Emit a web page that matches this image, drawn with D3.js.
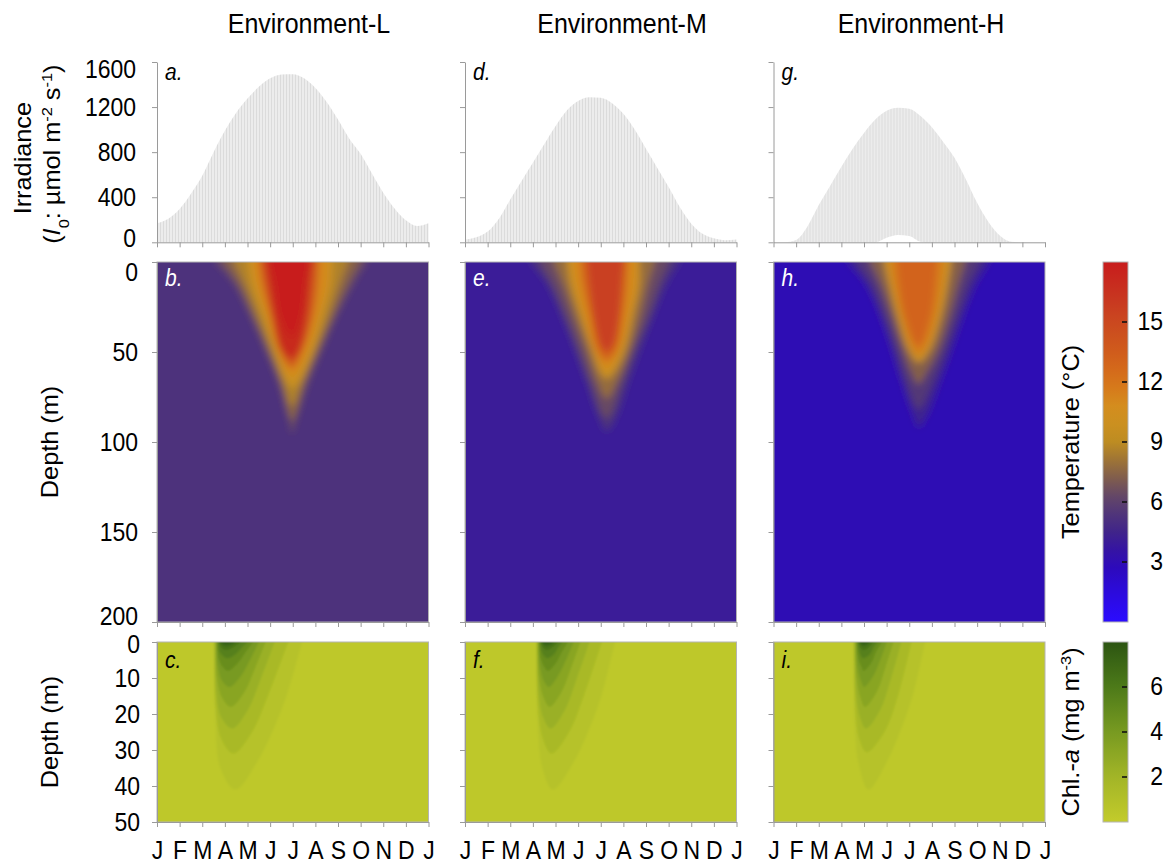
<!DOCTYPE html>
<html lang="en">
<head>
<meta charset="UTF-8">
<title>Irradiance, temperature and Chl-a in three environments</title>
<script src="https://cdn.jsdelivr.net/npm/d3@7"></script>
<style>
  body { margin: 0; background: #fff; }
  svg text { font-family: "Liberation Sans", Arial, sans-serif; fill: #000; }
  .axis path, .axis line { stroke: #9a9a9a; }
</style>
</head>
<body>
<svg id="fig" width="1172" height="864"></svg>
<script>
// ---- data ----
const monthTicks = [0, 1, 2, 3, 4, 5, 6, 7, 8, 9, 10, 11, 12];
const monthLabels = ["J", "F", "M", "A", "M", "J", "J", "A", "S", "O", "N", "D", "J"];
const envNames = ["Environment-L", "Environment-M", "Environment-H"];
const titleX = [309, 622, 921];
const letters = [["a.", "b.", "c."], ["d.", "e.", "f."], ["g.", "h.", "i."]];

// surface irradiance envelope (umol m-2 s-1), every half month
const irrMonths = [0, 0.5, 1, 1.5, 2, 2.5, 3, 3.5, 4, 4.5, 5, 5.5, 6, 6.5, 7, 7.5, 8, 8.5, 9, 9.5, 10, 10.5, 11, 11.5, 12];
const irrL = [170, 210, 295, 430, 590, 800, 990, 1150, 1275, 1380, 1455, 1490, 1492, 1455, 1370, 1245, 1090, 920, 785, 610, 440, 300, 195, 145, 170];
const irrM = [25, 45, 95, 210, 380, 545, 705, 870, 1030, 1170, 1255, 1288, 1282, 1235, 1140, 1000, 830, 660, 490, 310, 165, 75, 35, 18, 25];
const irrH = [0, 0, 20, 140, 330, 500, 670, 830, 970, 1090, 1168, 1195, 1185, 1120, 1020, 890, 750, 560, 350, 180, 60, 5, 0, 0, 0];
const irrLowL = [0, 0, 0, 0, 0, 0, 0, 0, 0, 0, 0, 0, 0, 0, 0, 0, 0, 0, 0, 0, 0, 0, 0, 0, 0];
const irrLowM = [0, 0, 0, 0, 0, 0, 0, 0, 0, 0, 0, 0, 0, 0, 0, 0, 0, 0, 0, 0, 0, 0, 0, 0, 0];
const irrLowH = [0, 0, 0, 0, 0, 0, 0, 0, 0, 0, 40, 64, 55, 5, 0, 0, 0, 0, 0, 0, 0, 0, 0, 0, 0];

// temperature: deep background value and isotherm outlines [month, depth m]
const tempBg = [5.3, 4.0, 3.0];
const tempLevelsL = [6.4, 7.4, 8.6, 9.8, 11, 13.5, 17, 17.8];
const tempLinesL = [
  [[2.58,0],[3.39,12],[4.12,30],[4.79,49],[5.37,67],[5.8,86],[5.97,95],[6.2,86],[6.70,67],[7.29,49],[7.95,30],[8.69,12],[9.28,0]],
  [[2.95,0],[3.6,12],[4.25,30],[4.9,49],[5.45,67],[5.97,88],[6.55,67],[7.15,49],[7.8,30],[8.45,12],[8.95,0]],
  [[3.4,0],[3.85,12],[4.45,30],[5.05,49],[5.6,67],[5.97,80],[6.4,67],[7.0,49],[7.6,30],[8.1,12],[8.45,0]],
  [[3.98,0],[4.15,12],[4.64,30],[5.15,49],[5.74,67],[5.97,70],[6.26,67],[6.92,49],[7.36,30],[7.73,12],[7.8,0]],
  [[4.25,0],[4.4,12],[4.85,30],[5.3,49],[5.97,64],[6.7,49],[7.15,30],[7.5,12],[7.55,0]],
  [[4.5,0],[4.65,12],[5.0,30],[5.4,49],[5.97,59],[6.45,49],[6.9,30],[7.1,12],[7.15,0]],
  [[4.75,0],[4.9,12],[5.15,30],[5.52,49],[5.97,54],[6.3,49],[6.65,30],[6.8,12],[6.9,0]],
  [[5.0,0],[5.2,12],[5.45,30],[5.97,42],[6.35,30],[6.55,12],[6.7,0]]
];
const tempLevelsM = [5.2, 6.4, 7.8, 9.8, 11, 13, 15.6];
const tempLinesM = [
  [[2.87,0],[3.61,12],[4.27,30],[4.86,49],[5.37,67],[5.89,86],[6.26,94],[6.7,86],[7.21,67],[7.73,49],[8.32,30],[8.91,12],[9.5,0]],
  [[3.3,0],[3.85,12],[4.45,30],[5.03,49],[5.55,67],[6.26,87],[6.95,67],[7.47,49],[8.1,30],[8.6,12],[9.05,0]],
  [[3.9,0],[4.3,12],[4.8,30],[5.35,49],[5.85,67],[6.26,76],[6.7,67],[7.3,49],[7.75,30],[8.1,12],[8.4,0]],
  [[4.49,0],[4.64,12],[5.08,30],[5.6,49],[6.0,62],[6.26,65],[6.55,62],[7.07,49],[7.43,30],[7.73,12],[7.73,0]],
  [[4.75,0],[4.9,12],[5.25,30],[5.7,49],[6.26,60],[6.85,49],[7.25,30],[7.5,12],[7.55,0]],
  [[5.1,0],[5.2,12],[5.5,30],[5.85,49],[6.26,55],[6.7,49],[7.0,30],[7.15,12],[7.2,0]],
  [[5.4,0],[5.5,12],[5.7,30],[6.0,46],[6.26,50],[6.55,46],[6.8,30],[6.92,12],[7.0,0]]
];
const tempLevelsH = [4.3, 5.6, 7.3, 9.8, 11.5, 13];
const tempLinesH = [
  [[3.24,0],[4.05,12],[4.71,30],[5.23,49],[5.67,67],[6.18,86],[6.41,92],[6.78,86],[7.36,67],[7.88,49],[8.39,30],[8.98,12],[9.57,0]],
  [[3.65,0],[4.3,12],[4.88,30],[5.4,49],[5.85,67],[6.41,82],[7.05,67],[7.62,49],[8.15,30],[8.65,12],[9.15,0]],
  [[4.25,0],[4.7,12],[5.2,30],[5.7,49],[6.1,62],[6.41,68],[6.75,62],[7.3,49],[7.8,30],[8.2,12],[8.5,0]],
  [[4.86,0],[5.08,12],[5.45,30],[5.96,49],[6.41,56],[6.92,49],[7.43,30],[7.73,12],[7.88,0]],
  [[5.15,0],[5.3,12],[5.65,30],[6.05,46],[6.41,52],[6.8,46],[7.2,30],[7.45,12],[7.55,0]],
  [[5.45,0],[5.55,12],[5.8,30],[6.41,47],[6.95,30],[7.15,12],[7.23,0]]
];

// chlorophyll-a: background and contour outlines [month, depth m]
const chlBg = [0.3, 0.3, 0.3];
const chlLevels = [0.8, 1.6, 2.4, 3.2, 4.0, 4.8, 5.6, 6.4, 7.2];
const chlLinesL = [
  [[2.5,0],[2.58,22],[2.8,35],[3.46,41],[4.42,33.4],[5.16,24],[5.75,14.5],[6.41,0]],
  [[2.53,0],[2.6,18],[2.85,27],[3.38,31],[4.2,25],[4.9,15],[5.8,0]],
  [[2.56,0],[2.63,14],[2.85,21],[3.32,24],[4.0,19],[4.6,10],[5.2,0]],
  [[2.6,0],[2.66,10],[2.88,15.5],[3.26,18],[3.85,14],[4.35,7],[4.8,0]],
  [[2.63,0],[2.7,7],[2.9,11],[3.2,12.5],[3.7,9.5],[4.15,4.5],[4.5,0]],
  [[2.66,0],[2.73,4.5],[2.92,7],[3.15,8],[3.55,6],[3.95,2.5],[4.25,0]],
  [[2.7,0],[2.78,2.8],[3.1,4.5],[3.45,3.5],[3.8,1.2],[4.0,0]],
  [[2.75,0],[2.85,1.5],[3.05,2.2],[3.35,1.5],[3.7,0]],
  [[2.8,0],[3.0,1],[3.3,0.6],[3.45,0]]
];
const chlLinesM = [
  [[3.14,0],[3.21,22],[3.42,35],[3.88,41],[4.8,33.4],[5.5,24],[6.05,14.5],[6.63,0]],
  [[3.16,0],[3.23,18],[3.45,27],[3.82,31],[4.6,25],[5.25,15],[6.05,0]],
  [[3.19,0],[3.26,14],[3.46,21],[3.78,24],[4.4,19],[4.95,10],[5.5,0]],
  [[3.22,0],[3.28,10],[3.48,15.5],[3.74,18],[4.25,14],[4.7,7],[5.1,0]],
  [[3.25,0],[3.32,7],[3.5,11],[3.7,12.5],[4.1,9.5],[4.5,4.5],[4.8,0]],
  [[3.28,0],[3.35,4.5],[3.52,7],[3.67,8],[4.0,6],[4.3,2.5],[4.55,0]],
  [[3.32,0],[3.4,2.8],[3.62,4.5],[3.92,3.5],[4.15,1.2],[4.3,0]],
  [[3.36,0],[3.45,1.5],[3.6,2.2],[3.85,1.5],[4.1,0]],
  [[3.4,0],[3.55,1],[3.8,0.6],[3.9,0]]
];
const chlLinesH = [
  [[3.53,0],[3.6,24],[3.75,33.4],[4.2,41],[5.0,33.4],[5.65,24],[6.17,14.5],[6.7,0]],
  [[3.55,0],[3.62,18],[3.8,27],[4.12,30.6],[4.9,25],[5.5,15],[6.1,0]],
  [[3.58,0],[3.65,14],[3.83,21],[4.08,24],[4.7,19],[5.2,10],[5.65,0]],
  [[3.62,0],[3.68,10],[3.85,15.5],[4.04,18],[4.55,14],[4.95,7],[5.3,0]],
  [[3.65,0],[3.72,7],[3.88,11],[4.0,12.5],[4.4,9.5],[4.75,4.5],[5.0,0]],
  [[3.68,0],[3.75,4.5],[3.9,7],[3.98,8],[4.3,6],[4.55,2.5],[4.8,0]],
  [[3.72,0],[3.8,2.8],[3.95,4.5],[4.25,3.5],[4.45,1.2],[4.6,0]],
  [[3.76,0],[3.85,1.5],[3.98,2.2],[4.2,1.5],[4.4,0]],
  [[3.8,0],[3.95,1],[4.15,0.6],[4.25,0]]
];

const irrTicks = [0, 400, 800, 1200, 1600];
const tempDepthTicks = [0, 50, 100, 150, 200];
const chlDepthTicks = [0, 10, 20, 30, 40, 50];
const tempBarTicks = [3, 6, 9, 12, 15];
const chlBarTicks = [2, 4, 6];

// colour palettes
const tempStops = [0, 1.5, 3, 4.5, 6, 7.5, 9, 10.5, 12, 13.5, 15, 16.5, 18];
const tempColors = ["#2b0cff", "#2c0bdc", "#2d0ab4", "#40248a", "#5a4070", "#8a6444", "#bd8c22", "#d4931f",
                    "#d6741a", "#d05c1c", "#ca4820", "#c83220", "#c81c1c"];
const chlStops = [0, 2, 4, 6, 8];
const chlColors = ["#c3cb2b", "#a2b527", "#789a21", "#4d7a19", "#2c5512"];

// ---- layout ----
const SY = 1.1;              // the figure text is slightly taller than wide
const FS = 23;
const colX = [157, 465, 773.5];
const panelW = 271.5;
const irrTop = 62, irrBot = 242.3;
const tTop = 262, tBot = 622;
const cTop = 642, cBot = 822;
const barX = 1103, barW = 25;

const svg = d3.select("#fig");
const defs = svg.append("defs");

const x = d3.scaleLinear().domain([0, 12]).range([0, panelW]);
const yIrr = d3.scaleLinear().domain([0, 1600]).range([irrBot - irrTop, 0]);
const yTemp = d3.scaleLinear().domain([0, 200]).range([0, tBot - tTop]);
const yChl = d3.scaleLinear().domain([0, 50]).range([0, cBot - cTop]);
const tempColor = d3.scaleLinear().domain(tempStops).range(tempColors);
const chlColor = d3.scaleLinear().domain(chlStops).range(chlColors);

// hatching for the daily irradiance cycles
const pat = defs.append("pattern").attr("id", "hatch").attr("patternUnits", "userSpaceOnUse")
  .attr("width", 3).attr("height", 20);
pat.append("rect").attr("width", 3).attr("height", 20).attr("fill", "#ececec");
pat.append("rect").attr("width", 1).attr("height", 20).attr("fill", "#dbdbdb");

defs.append("filter").attr("id", "blurT").attr("x", "-10%").attr("y", "-10%").attr("width", "120%").attr("height", "120%")
  .append("feGaussianBlur").attr("stdDeviation", 3.6);
defs.append("filter").attr("id", "blurC").attr("x", "-10%").attr("y", "-10%").attr("width", "120%").attr("height", "120%")
  .append("feGaussianBlur").attr("stdDeviation", 1.1);

function txt(g, px, py, str, opts = {}) {
  const t = g.append("text")
    .attr("transform", `translate(${px},${py}) scale(1,${SY})` + (opts.rotate ? " rotate(-90)" : ""))
    .attr("font-size", opts.size || FS)
    .attr("text-anchor", opts.anchor || "start");
  if (opts.italic) t.attr("font-style", "italic");
  if (opts.fill) t.style("fill", opts.fill);
  if (Array.isArray(str)) {
    str.forEach(p => {
      const s = t.append("tspan").text(p.t);
      if (p.i) s.attr("font-style", "italic");
      if (p.sup) s.attr("baseline-shift", "super").attr("font-size", (opts.size || FS) * 0.65);
      if (p.sub) s.attr("baseline-shift", "sub").attr("font-size", (opts.size || FS) * 0.65);
    });
  } else t.text(str);
  return t;
}

function styleAxis(g) {
  g.attr("class", "axis");
  g.selectAll("text").attr("font-size", FS).style("font-family", '"Liberation Sans", Arial, sans-serif')
    .attr("transform", `scale(1,${SY})`);
}

// the end labels of the depth / irradiance axes sit a little inside the range
function nudge(g, shifts) {
  g.selectAll(".tick").each(function(d) {
    if (shifts[d] !== undefined) d3.select(this).select("text").attr("y", shifts[d] / SY);
  });
}

// closed contour shape, extended above the surface so the blur does not fade at the top
function tongue(pts, yS) {
  const ln = d3.line().x(d => x(d[0])).y(d => yS(d[1])).curve(d3.curveCatmullRom.alpha(0.5));
  const a = pts[0], b = pts[pts.length - 1];
  return ln(pts) + `L${x(b[0])},${yS(0) - 30}L${x(a[0])},${yS(0) - 30}Z`;
}

const irrHigh = [irrL, irrM, irrH];
const irrLow = [irrLowL, irrLowM, irrLowH];
const tLevels = [tempLevelsL, tempLevelsM, tempLevelsH];
const tLines = [tempLinesL, tempLinesM, tempLinesH];
const cLines = [chlLinesL, chlLinesM, chlLinesH];

colX.forEach((cx, i) => {
  // title
  txt(svg, titleX[i], 33, envNames[i], { size: 25, anchor: "middle" });

  // ---- irradiance ----
  const gI = svg.append("g").attr("transform", `translate(${cx},${irrTop})`);
  const area = d3.area()
    .x((d, k) => x(irrMonths[k]))
    .y0((d, k) => yIrr(irrLow[i][k]))
    .y1(d => yIrr(d))
    .curve(d3.curveMonotoneX);
  gI.append("path").datum(irrHigh[i]).attr("d", area).attr("fill", "url(#hatch)");
  gI.append("g").call(d3.axisLeft(yIrr).tickValues(irrTicks).tickSize(5).tickSizeOuter(0).tickPadding(16)
      .tickFormat(i === 0 ? d3.format("d") : () => ""))
    .call(styleAxis).call(nudge, { 0: -4, 1600: 7 });
  gI.append("g").attr("transform", `translate(0,${irrBot - irrTop})`)
    .call(d3.axisBottom(x).tickValues(monthTicks).tickSize(5).tickSizeOuter(0).tickFormat(() => ""))
    .call(styleAxis);
  txt(gI, 8, 18, letters[i][0], { size: 21, italic: true });

  // ---- temperature ----
  const gT = svg.append("g").attr("transform", `translate(${cx},${tTop})`);
  const hT = tBot - tTop;
  defs.append("clipPath").attr("id", "clipT" + i).append("rect").attr("width", panelW).attr("height", hT);
  const fT = gT.append("g").attr("clip-path", `url(#clipT${i})`).append("g").attr("filter", "url(#blurT)");
  fT.append("rect").attr("x", -30).attr("y", -40).attr("width", panelW + 60).attr("height", hT + 80)
    .attr("fill", tempColor(tempBg[i]));
  fT.selectAll("path.iso").data(tLines[i]).join("path").attr("class", "iso")
    .attr("d", d => tongue(d, yTemp))
    .attr("fill", (d, k) => tempColor(tLevels[i][k]));
  gT.append("rect").attr("width", panelW).attr("height", hT).attr("fill", "none").attr("stroke", "#b4b4b4");
  gT.append("g").call(d3.axisLeft(yTemp).tickValues(tempDepthTicks).tickSize(5).tickSizeOuter(0).tickPadding(14)
      .tickFormat(i === 0 ? d3.format("d") : () => ""))
    .call(styleAxis).call(nudge, { 0: 10, 200: -5.5 });
  gT.append("g").attr("transform", `translate(0,${hT})`)
    .call(d3.axisBottom(x).tickValues(monthTicks).tickSize(5).tickSizeOuter(0).tickFormat(() => ""))
    .call(styleAxis);
  txt(gT, 8, 24, letters[i][1], { size: 21, italic: true, fill: "#fff" });

  // ---- chlorophyll ----
  const gC = svg.append("g").attr("transform", `translate(${cx},${cTop})`);
  const hC = cBot - cTop;
  defs.append("clipPath").attr("id", "clipC" + i).append("rect").attr("width", panelW).attr("height", hC);
  const fC = gC.append("g").attr("clip-path", `url(#clipC${i})`).append("g").attr("filter", "url(#blurC)");
  fC.append("rect").attr("x", -30).attr("y", -40).attr("width", panelW + 60).attr("height", hC + 80)
    .attr("fill", chlColor(chlBg[i]));
  fC.selectAll("path.iso").data(cLines[i]).join("path").attr("class", "iso")
    .attr("d", d => tongue(d, yChl))
    .attr("fill", (d, k) => chlColor(chlLevels[k]));
  gC.append("rect").attr("width", panelW).attr("height", hC).attr("fill", "none").attr("stroke", "#b4b4b4");
  gC.append("g").call(d3.axisLeft(yChl).tickValues(chlDepthTicks).tickSize(5).tickSizeOuter(0).tickPadding(12)
      .tickFormat(i === 0 ? d3.format("d") : () => ""))
    .call(styleAxis).call(nudge, { 0: 2 });
  gC.append("g").attr("transform", `translate(0,${hC})`)
    .call(d3.axisBottom(x).tickValues(monthTicks).tickSize(5).tickSizeOuter(0).tickPadding(12)
      .tickFormat(k => monthLabels[k]))
    .call(styleAxis);
  txt(gC, 8, 26, letters[i][2], { size: 21, italic: true });
});

// ---- y axis titles ----
txt(svg, 31, (irrTop + irrBot) / 2 + 6, "Irradiance", { rotate: true, anchor: "middle" });
txt(svg, 60, (irrTop + irrBot) / 2 + 2,
  [{ t: "(" }, { t: "I", i: true }, { t: "0", sub: true }, { t: ": \u00b5mol m" }, { t: "-2", sup: true },
   { t: " s" }, { t: "-1", sup: true }, { t: ")" }], { rotate: true, anchor: "middle" });
txt(svg, 58, (tTop + tBot) / 2, "Depth (m)", { rotate: true, anchor: "middle" });
txt(svg, 58, (cTop + cBot) / 2, "Depth (m)", { rotate: true, anchor: "middle" });

// ---- colour bars ----
function colorBar(id, top, bot, domain, scale, ticks, title) {
  const grad = defs.append("linearGradient").attr("id", id).attr("x1", 0).attr("y1", 1).attr("x2", 0).attr("y2", 0);
  d3.range(0, 21).forEach(k => {
    const v = domain[0] + (domain[1] - domain[0]) * k / 20;
    grad.append("stop").attr("offset", k / 20).attr("stop-color", scale(v));
  });
  const yB = d3.scaleLinear().domain(domain).range([bot, top]);
  svg.append("rect").attr("x", barX).attr("y", top).attr("width", barW).attr("height", bot - top)
    .attr("fill", `url(#${id})`).attr("stroke", "#b4b4b4");
  ticks.forEach(v => {
    svg.append("line").attr("x1", barX + barW - 6).attr("x2", barX + barW - 1)
      .attr("y1", yB(v)).attr("y2", yB(v)).attr("stroke", "#111").attr("stroke-width", 1.6);
    txt(svg, 1163, yB(v) + 8, String(v), { anchor: "end" });
  });
  txt(svg, 1079, (top + bot) / 2, title, { rotate: true, anchor: "middle" });
}
colorBar("gradT", tTop, tBot, [0, 18], tempColor, tempBarTicks, "Temperature (\u00b0C)");
colorBar("gradC", cTop, cBot, [0, 8], chlColor, chlBarTicks,
  [{ t: "Chl.-" }, { t: "a", i: true }, { t: " (mg m" }, { t: "-3", sup: true }, { t: ")" }]);
</script>
</body>
</html>
